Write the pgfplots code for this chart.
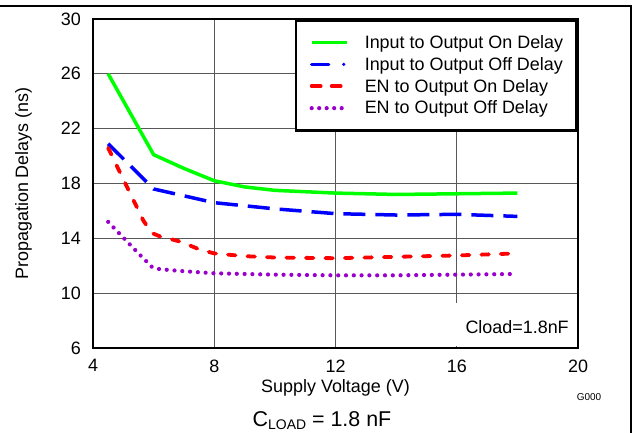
\documentclass[border=0pt]{standalone}
\usepackage{fontspec}
\setmainfont{Liberation Sans}
\usepackage{pgfplots}
\pgfplotsset{compat=1.18}
\definecolor{cgreen}{RGB}{0,255,0}
\definecolor{cblue}{RGB}{0,0,255}
\definecolor{cred}{RGB}{255,0,0}
\definecolor{cpurple}{RGB}{153,0,204}
\begin{document}
\begin{tikzpicture}[x=1bp,y=1bp]
\useasboundingbox (0,0) rectangle (633,433);
\draw[line width=1.5bp] (0,427) -- (631,427) -- (631,0);
\begin{axis}[
  at={(93bp,85bp)}, anchor=south west,
  scale only axis, width=485bp, height=329bp,
  xmin=4, xmax=20, ymin=6, ymax=30,
  xtick={4,8,12,16,20}, ytick={6,10,14,18,22,26,30},
  major tick length=0pt,
  grid=major,
  major grid style={line width=0.9bp, color=black!65},
  axis line style={line width=2.7bp},
  tick label style={font=\fontsize{18}{21}\selectfont, inner sep=0pt},
  /pgf/number format/assume math mode=true,
  xticklabel style={anchor=north, yshift=-11.3bp},
  yticklabel style={anchor=east, xshift=-12bp},
  legend style={at={(rel axis cs:1,1)}, anchor=north east, draw=black,
    line width=2.7bp, fill=white, font=\fontsize{18}{21}\selectfont,
    inner xsep=13.5bp, inner ysep=14.9bp, row sep=7.4bp, column sep=16bp,
    nodes={inner sep=0pt}},
  legend cell align=left,
  legend image code/.code={\draw[#1] (0bp,0bp) -- (35bp,0bp);},
]
\addlegendimage{cgreen, line width=3.5bp}
\addlegendentry{Input to Output On Delay}
\addlegendimage{cblue, line width=3.5bp, line cap=round, dash pattern=on 17bp off 15bp on 0bp off 20bp}
\addlegendentry{Input to Output Off Delay}
\addlegendimage{cred, line width=3.8bp, line cap=round, dash pattern=on 9bp off 11bp}
\addlegendentry{EN to Output On Delay}
\addlegendimage{cpurple, line width=4.2bp, line cap=round, dash pattern=on 0bp off 7.5bp}
\addlegendentry{EN to Output Off Delay}

\addplot[forget plot, cgreen, line width=3.5bp, line join=round] coordinates {
(4.5,26.0) (6,20.1) (7,19.1) (8,18.2) (9,17.75) (10,17.5) (12,17.3) (14,17.2) (16,17.25) (18,17.3)};
\addplot[forget plot, cblue, line width=3.5bp, dash pattern=on 22bp off 10bp] coordinates {
(4.5,20.9) (6,17.6) (8,16.6) (10,16.15) (12,15.8) (14,15.7) (16,15.75) (18,15.6)};
\addplot[forget plot, cred, line width=3.8bp, line cap=round, dash pattern=on 7.5bp off 12bp] coordinates {
(4.5,20.6) (5,18.3) (5.33,16.8) (5.66,15.3) (5.93,14.4) (6.2,14.15) (6.9,13.75) (7.5,13.2) (8,12.9) (9,12.7) (10,12.6) (12,12.55) (14,12.65) (16,12.75) (18,12.9)};
\addplot[forget plot, cpurple, line width=4.2bp, line cap=round, dash pattern=on 0bp off 7.8bp] coordinates {
(4.5,15.2) (5,14.05) (5.5,12.9) (5.95,11.9) (6.2,11.75) (7,11.6) (8,11.45) (10,11.35) (12,11.3) (14,11.3) (16,11.35) (18,11.4)};

\fill[white] ([yshift=1.5bp]axis cs:15.8,6) rectangle ([xshift=-1.5bp]axis cs:20,9.28);
\node[anchor=base east, inner sep=0pt, font=\fontsize{18}{21}\selectfont] at (axis cs:19.70,7.09) {Cload=1.8nF};
\end{axis}
\node[anchor=base, inner sep=0pt, font=\fontsize{18}{21}\selectfont] at (335.5,40.3) {Supply Voltage (V)};
\node[rotate=90, anchor=base, inner sep=0pt, font=\fontsize{18}{21}\selectfont] at (28,249.5) {Propagation Delays (ns)};
\node[anchor=base, inner sep=0pt, font=\fontsize{10}{12}\selectfont] at (589,32.3) {G000};
\node[anchor=base, inner sep=0pt, font=\fontsize{21.5}{24}\selectfont] at (322,6.3) {C\raisebox{-2.5bp}{\fontsize{14}{16}\selectfont LOAD} = 1.8 nF};
\end{tikzpicture}
\end{document}
